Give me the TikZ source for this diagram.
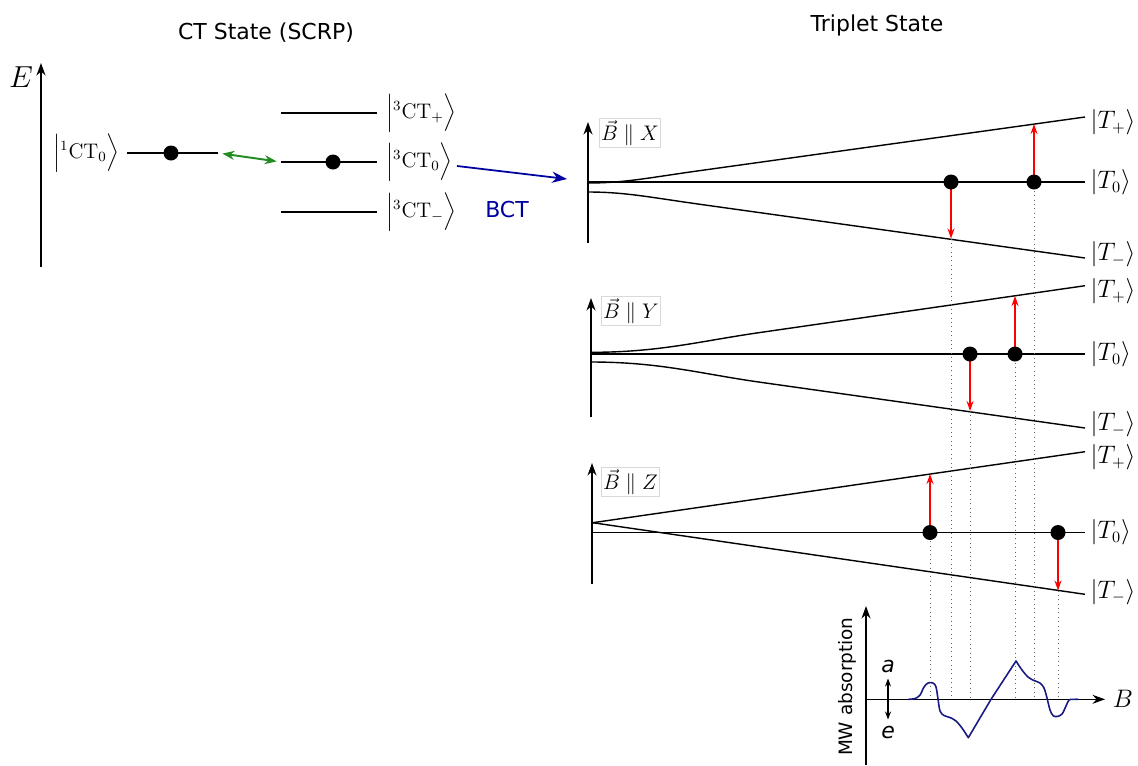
\documentclass[tikz,border=0pt]{standalone}
\usepackage{amsmath,amssymb}
\usepackage{fontspec}
\setsansfont{DejaVu Sans}
\usepackage{tikz}
\usetikzlibrary{arrows.meta,positioning}
\definecolor{bctblue}{RGB}{0,0,160}
\definecolor{iscgreen}{RGB}{34,139,34}
\definecolor{specblue}{RGB}{25,25,130}

\begin{document}
\begin{tikzpicture}[x=0.02cm,y=-0.02cm,
  lvl/.style={line width=0.8pt},
  dot/.style={circle,fill=black,inner sep=0pt,minimum size=0.3cm},
  ket/.style={font=\large,inner sep=1pt},
  tket/.style={font=\fontsize{13.5}{16}\selectfont,inner sep=1pt},
  txt/.style={font=\sffamily\fontsize{12.5}{15}\selectfont},
  axis/.style={-{Stealth[length=2.5mm,width=1.8mm]},line width=0.8pt},
  flip/.style={-{Stealth[length=2mm,width=1.4mm]},red,line width=0.7pt},
  guide/.style={dotted,black!60,line width=0.5pt},
  field/.style={draw=black!15,fill=white,inner sep=1pt,anchor=north west,font=\large},
  spec/.style={specblue,line width=0.9pt,line join=round}]
\useasboundingbox (0,0) rectangle (1138,765);

\node[txt] (cttitle) at (266,33) {CT State (SCRP)};
\node[txt] (trtitle) at (877,25) {Triplet State};

% energy axis and CT levels
\coordinate (ebot) at (41,267);
\coordinate (etop) at (41,63);
\draw[axis] (ebot) -- (etop);
\node[font=\fontsize{16}{19}\selectfont] (elab) at (21,77) {$E$};

\coordinate (sl) at (127,153);
\coordinate (sr) at (218,153);
\draw[lvl] (sl) -- (sr);
\node[ket,left=3pt of sl] (slab) {$\Bigl|{}^1\mathrm{CT}_0\Bigr\rangle$};

\coordinate (tpl) at (281,113);
\coordinate (tpr) at (377,113);
\coordinate (tzl) at (281,162);
\coordinate (tzr) at (377,162);
\coordinate (tml) at (281,212);
\coordinate (tmr) at (377,212);
\draw[lvl] (tpl) -- (tpr);
\draw[lvl] (tzl) -- (tzr);
\draw[lvl] (tml) -- (tmr);
\node[ket,right=4pt of tpr] (tplab) {$\Bigl|{}^3\mathrm{CT}_+\Bigr\rangle$};
\node[ket,right=4pt of tzr] (tzlab) {$\Bigl|{}^3\mathrm{CT}_0\Bigr\rangle$};
\node[ket,right=4pt of tmr] (tmlab) {$\Bigl|{}^3\mathrm{CT}_-\Bigr\rangle$};

\draw[{Stealth[length=2.4mm]}-{Stealth[length=2.4mm]},iscgreen,line width=1.1pt,
  shorten <=2.5pt,shorten >=2.5pt] (sr) -- (tzl);
\node[dot] (sdot) at (171,153) {};
\node[dot] (tdot) at (333,162) {};

\coordinate (bcts) at (457,166);
\coordinate (bcte) at (567,179);
\draw[-{Stealth[length=3mm]},bctblue,line width=1pt] (bcts) -- (bcte);
\node[txt,text=bctblue] (bctlab) at (507,209) {BCT};

% B || X
\coordinate (xbot) at (588,243);
\coordinate (xtop) at (588,122);
\draw[axis] (xbot) -- (xtop);
\node[field] (xfield) at (599,118) {$\vec B\parallel X$};
\coordinate (xzl) at (588,182);
\coordinate (xzr) at (1085,182);
\coordinate (xpr) at (1085,117);
\coordinate (xmr) at (1085,258);
\draw[lvl] (xzl) -- (xzr);
\draw[lvl] (588,183) .. controls (625,183) and (650,177.5) .. (700,170.6) -- (xpr);
\draw[lvl] (588,192) .. controls (625,192) and (650,197.3) .. (700,204.3) -- (xmr);
\node[tket,right=2pt of xpr,yshift=-3pt] (xplab) {$|T_+\rangle$};
\node[tket,right=2pt of xzr] (xzlab) {$|T_0\rangle$};
\node[tket,right=2pt of xmr,yshift=2pt] (xmlab) {$|T_-\rangle$};

% B || Y
\coordinate (ybot) at (591,417);
\coordinate (ytop) at (591,298);
\draw[axis] (ybot) -- (ytop);
\node[field] (yfield) at (601,296) {$\vec B\parallel Y$};
\coordinate (yzl) at (591,354);
\coordinate (yzr) at (1085,354);
\coordinate (ypr) at (1085,285.7);
\coordinate (ymr) at (1085,428);
\draw[lvl] (yzl) -- (yzr);
\draw[lvl] (591,352.3) .. controls (660,352.3) and (700,341.1) .. (760,332.5) -- (ypr);
\draw[lvl] (591,362) .. controls (660,362) and (700,373.7) .. (760,382.2) -- (ymr);
\node[tket,right=2pt of ypr,yshift=-3pt] (yplab) {$|T_+\rangle$};
\node[tket,right=2pt of yzr] (yzlab) {$|T_0\rangle$};
\node[tket,right=2pt of ymr,yshift=2pt] (ymlab) {$|T_-\rangle$};

% B || Z
\coordinate (zbot) at (592,584);
\coordinate (ztop) at (592,463);
\draw[axis] (zbot) -- (ztop);
\node[field] (zfield) at (601,467) {$\vec B\parallel Z$};
\coordinate (zzl) at (592,532.5);
\coordinate (zzr) at (1085,532.5);
\coordinate (zx) at (592.7,522.7);
\coordinate (zpr) at (1085,451.7);
\coordinate (zmr) at (1085,594.3);
\draw[lvl] (zzl) -- (zzr);
\draw[lvl] (zx) -- (zpr);
\draw[lvl] (zx) -- (zmr);
\node[tket,right=2pt of zpr,yshift=-3pt] (zplab) {$|T_+\rangle$};
\node[tket,right=2pt of zzr] (zzlab) {$|T_0\rangle$};
\node[tket,right=2pt of zmr,yshift=1.5pt] (zmlab) {$|T_-\rangle$};

% spectrum
\coordinate (sbot) at (866,765);
\coordinate (stop) at (866,606);
\coordinate (base) at (866,699.3);
\coordinate (bend) at (1105,699.3);
\draw[axis] (sbot) -- (stop);
\draw[axis] (base) -- (bend);
\node[font=\Large,right=1pt of bend] (blab) {$B$};
\node[txt,font=\sffamily\fontsize{10.5}{12}\selectfont,rotate=90,anchor=east,inner sep=0pt]
  (mwlab) at (847,617) {MW absorption};
\node[txt,font=\sffamily\itshape\fontsize{12.5}{15}\selectfont] (alab) at (888,666) {a};
\node[txt,font=\sffamily\itshape\fontsize{12.5}{15}\selectfont] (elab2) at (888,732) {e};
\draw[{Stealth[length=1.6mm]}-{Stealth[length=1.6mm]},line width=0.6pt] (alab) -- (elab2);

% resonance positions
\coordinate (xa) at (951,182);
\coordinate (xam) at (951,238.5);
\coordinate (xb) at (1034,182);
\coordinate (xbp) at (1034,124);
\coordinate (ya) at (970,354);
\coordinate (yam) at (970,411);
\coordinate (yb) at (1015,354);
\coordinate (ybp) at (1015,296);
\coordinate (za) at (930,532.5);
\coordinate (zap) at (930,474);
\coordinate (zb) at (1058,532.5);
\coordinate (zbm) at (1058,590.5);

\draw[guide] (xam) -- (xam |- base);
\draw[guide] (xb) -- (xb |- base);
\draw[guide] (yam) -- (yam |- base);
\draw[guide] (yb) -- (yb |- base);
\draw[guide] (za) -- (za |- base);
\draw[guide] (zbm) -- (zbm |- base);

\draw[flip] (xa) -- (xam);
\draw[flip] (xb) -- (xbp);
\draw[flip] (ya) -- (yam);
\draw[flip] (yb) -- (ybp);
\draw[flip] (za) -- (zap);
\draw[flip] (zb) -- (zbm);

\node[dot] (xadot) at (xa) {};
\node[dot] (xbdot) at (xb) {};
\node[dot] (yadot) at (ya) {};
\node[dot] (ybdot) at (yb) {};
\node[dot] (zadot) at (za) {};
\node[dot] (zbdot) at (zb) {};

\draw[spec] plot[smooth,tension=0.55] coordinates {(908.3,699.3) (915,698.5) (920,695)
  (924,687) (928,683) (933,683) (936,687) (938,699) (940,711) (944,715.5) (950,717.5)
  (956,721) (962,728) (968.3,737.7)}
  -- (991,699.3) -- (1016,661)
  -- plot[smooth,tension=0.55] coordinates {(1016,661) (1022,670) (1028,677) (1034,680.5)
  (1040,683) (1044,688) (1047,698) (1050,710) (1053,715.5) (1057,716.5) (1062,714)
  (1066,706) (1069,700) (1073,699.3) (1078.5,699.3)};
\end{tikzpicture}
\end{document}
